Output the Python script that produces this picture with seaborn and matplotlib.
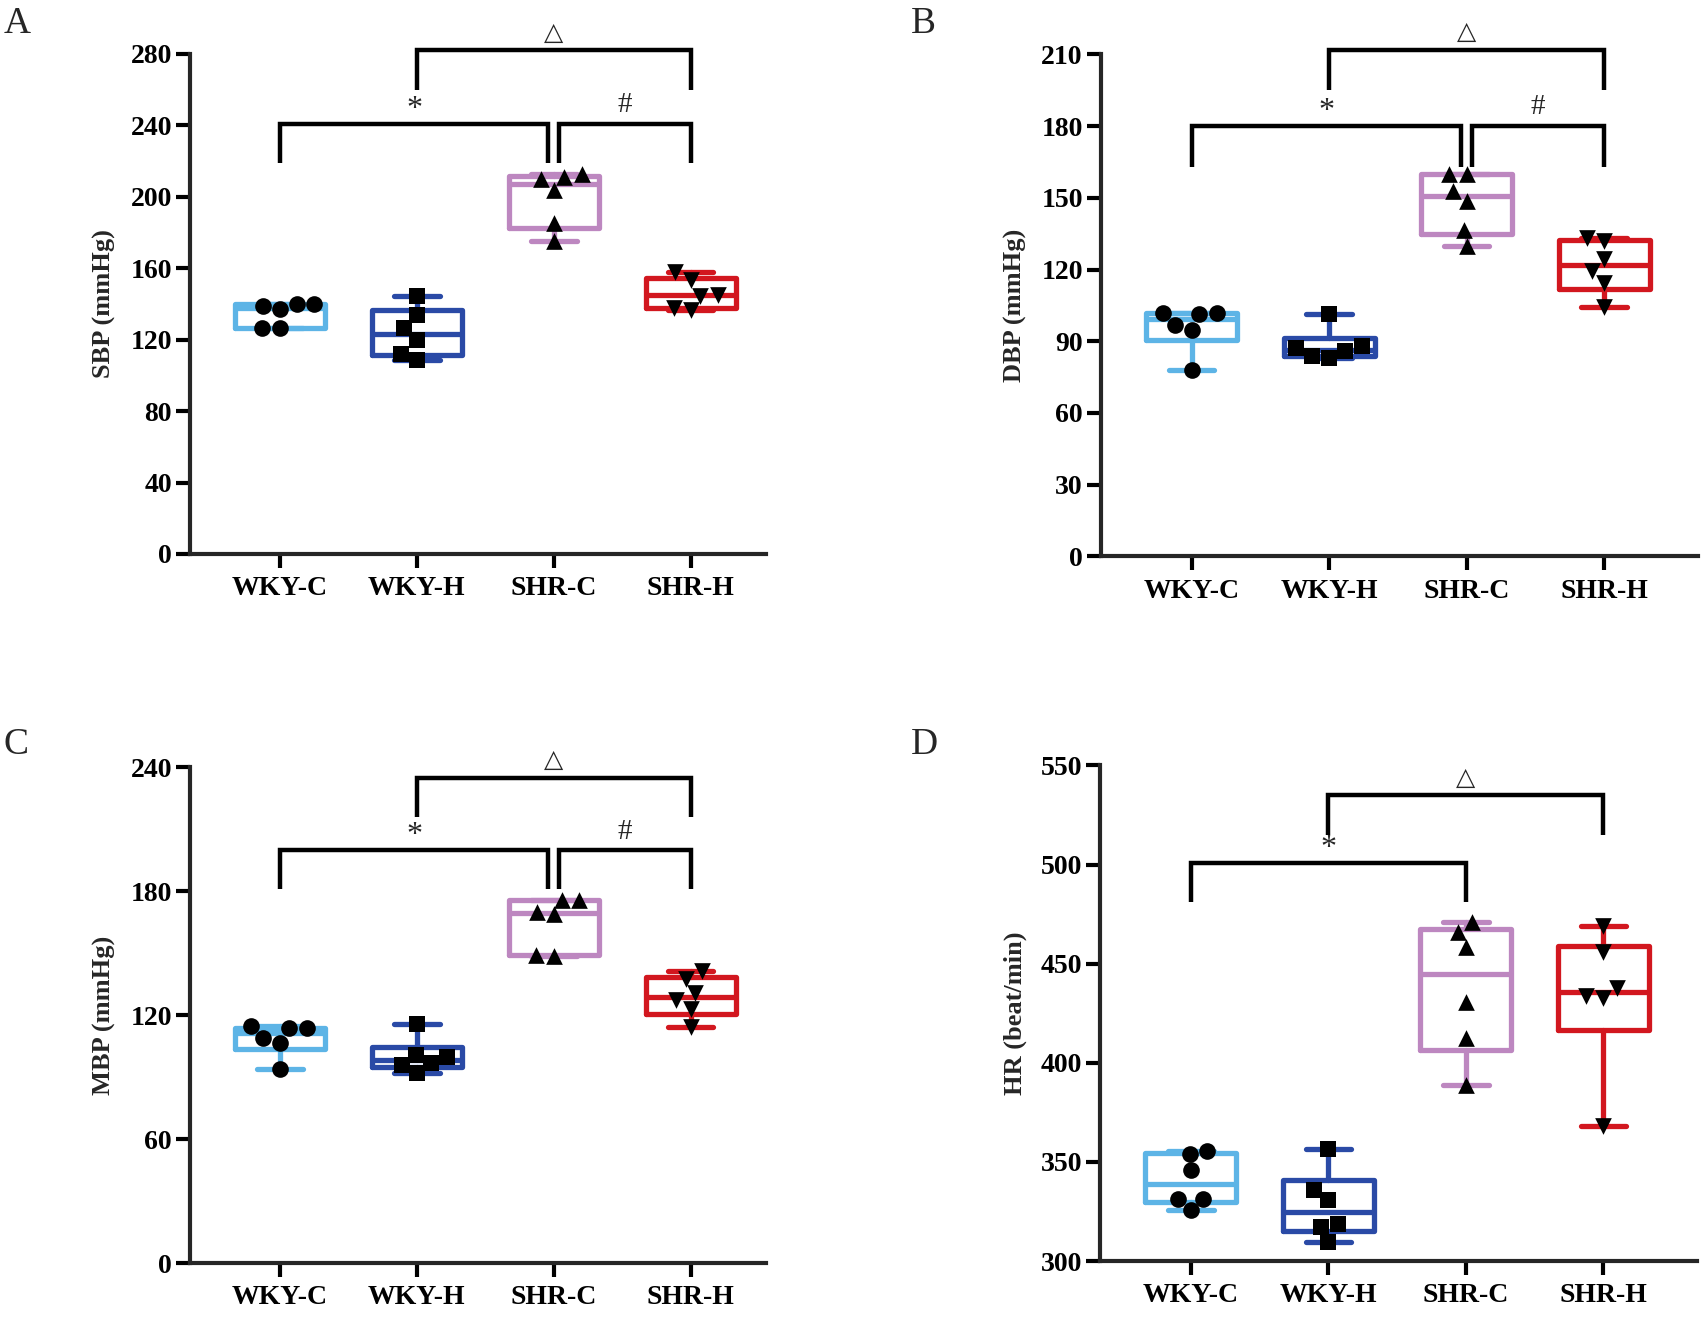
import matplotlib
matplotlib.use("Agg")
import matplotlib.pyplot as plt
import seaborn as sns
import pandas as pd
import numpy as np

# groups and styles
groups = ["WKY-C", "WKY-H", "SHR-C", "SHR-H"]
colors = ["#5DB4E6", "#2A4AA6", "#BD87C0", "#D2171F"]
markers = ["o", "s", "^", "v"]

# values (6 rats per group)
sbp_wky_c = [140.0, 138.6, 137.1, 140.0, 126.5, 126.5]
sbp_wky_h = [144.2, 134.0, 126.5, 120.0, 112.2, 108.8]
sbp_shr_c = [211.2, 210.2, 212.5, 203.7, 185.1, 175.3]
sbp_shr_h = [157.6, 153.5, 145.1, 144.6, 138.0, 136.7]

dbp_wky_c = [101.2, 101.9, 101.9, 97.0, 94.9, 78.1]
dbp_wky_h = [101.2, 87.9, 87.2, 85.8, 84.0, 83.0]
dbp_shr_c = [159.8, 159.8, 152.8, 148.6, 136.7, 129.8]
dbp_shr_h = [133.3, 131.9, 124.2, 119.3, 114.4, 104.4]

mbp_wky_c = [113.6, 113.6, 114.7, 108.8, 106.7, 93.9]
mbp_wky_h = [115.7, 100.8, 100.0, 96.8, 96.0, 92.0]
mbp_shr_c = [176.0, 176.0, 170.0, 168.8, 149.3, 148.5]
mbp_shr_h = [141.3, 137.6, 130.7, 127.2, 122.9, 114.4]

hr_wky_c = [354.2, 355.6, 345.8, 331.5, 331.5, 325.6]
hr_wky_h = [356.7, 335.7, 330.6, 318.9, 317.2, 309.6]
hr_shr_c = [471.2, 466.2, 458.6, 430.8, 412.3, 388.7]
hr_shr_h = [468.9, 455.7, 438.0, 433.8, 432.7, 368.0]

# significance brackets: (label, x_from, x_to, y_bar, y_leg)
brackets_a = [("*", 0, 1.96, 241, 219), ("#", 2.04, 3, 241, 219), ("△", 1, 3, 282, 260)]
brackets_b = [("*", 0, 1.96, 180, 163), ("#", 2.04, 3, 180, 163), ("△", 1, 3, 212, 195)]
brackets_c = [("*", 0, 1.96, 200, 181), ("#", 2.04, 3, 200, 181), ("△", 1, 3, 235, 216)]
brackets_d = [("*", 0, 2, 501, 481), ("△", 1, 3, 535, 515)]

sns.set_style("ticks")
plt.rcParams["font.family"] = ["Liberation Serif", "DejaVu Sans"]

fig = plt.figure(figsize=(17.05, 13.18), dpi=100)

panels = [
    ("A", [sbp_wky_c, sbp_wky_h, sbp_shr_c, sbp_shr_h], "SBP (mmHg)", (0, 280, 40),
     [0.1114, 0.5797, 0.338, 0.3794], (-0.657, 3.55), brackets_a, (0.0023, 0.9954)),
    ("B", [dbp_wky_c, dbp_wky_h, dbp_shr_c, dbp_shr_h], "DBP (mmHg)", (0, 210, 30),
     [0.6457, 0.5778, 0.350, 0.381], (-0.66, 3.68), brackets_b, (0.534, 0.9954)),
    ("C", [mbp_wky_c, mbp_wky_h, mbp_shr_c, mbp_shr_h], "MBP (mmHg)", (0, 240, 60),
     [0.1114, 0.0417, 0.338, 0.376], (-0.657, 3.55), brackets_c, (0.0023, 0.4477)),
    ("D", [hr_wky_c, hr_wky_h, hr_shr_c, hr_shr_h], "HR (beat/min)", (300, 550, 50),
     [0.6452, 0.0432, 0.350, 0.376], (-0.66, 3.68), brackets_d, (0.534, 0.4477)),
]


def box_stats(v):
    # quartiles as GraphPad Prism computes them, whiskers at min/max
    q1, med, q3 = np.percentile(v, [25, 50, 75], method="weibull")
    return dict(med=med, q1=q1, q3=q3, whislo=min(v), whishi=max(v), fliers=[])


for letter, vals, ylabel, (lo, hi, step), rect, xlim, brackets, lpos in panels:
    ax = fig.add_axes(rect)
    df = pd.DataFrame({
        "group": np.repeat(groups, [len(v) for v in vals]),
        "value": np.concatenate(vals),
    })

    for g, m in zip(groups, markers):
        sns.swarmplot(data=df[df["group"] == g], x="group", y="value", order=groups,
                      color="black", marker=m, size=12, linewidth=0, ax=ax, zorder=5)

    lw = 3.8
    arts = ax.bxp([box_stats(v) for v in vals], positions=range(len(groups)),
                  widths=0.66, capwidths=0.33, showfliers=False, manage_ticks=False,
                  boxprops=dict(linewidth=lw), whiskerprops=dict(linewidth=lw),
                  capprops=dict(linewidth=lw), medianprops=dict(linewidth=lw))
    for i, c in enumerate(colors):
        arts["boxes"][i].set_color(c)
        arts["medians"][i].set_color(c)
        for k in (2 * i, 2 * i + 1):
            arts["whiskers"][k].set_color(c)
            arts["caps"][k].set_color(c)
    for a in sum(arts.values(), []):
        a.set_zorder(3)

    ax.set_ylim(lo, hi)
    ax.set_yticks(range(lo, hi + 1, step))
    ax.set_xlim(*xlim)
    ax.set_xlabel("")
    ax.set_ylabel(ylabel, fontsize=19, fontweight="bold", labelpad=10)

    for side in ["top", "right"]:
        ax.spines[side].set_visible(False)
    for side in ["left", "bottom"]:
        ax.spines[side].set_linewidth(3)
    ax.tick_params(axis="both", width=3, length=10, labelsize=20, colors="black")
    ax.tick_params(axis="y", pad=3)
    ax.tick_params(axis="x", pad=6)
    plt.setp(ax.get_xticklabels() + ax.get_yticklabels(), fontweight="bold")

    for lab, x1, x2, yb, yl in brackets:
        ax.plot([x1, x1, x2, x2], [yl, yb, yb, yl], color="black", lw=3.2,
                clip_on=False, solid_joinstyle="miter", solid_capstyle="butt")
        fs = {"*": 23, "#": 21}.get(lab, 18)
        dy = 0 if lab == "*" else 4
        ax.annotate(lab, xy=((x1 + x2) / 2, yb), xytext=(0, dy),
                    textcoords="offset points", ha="center", va="bottom",
                    fontsize=fs, annotation_clip=False)

    fig.text(lpos[0], lpos[1], letter, fontsize=27, ha="left", va="top")

fig.savefig("out.png", dpi=100)
